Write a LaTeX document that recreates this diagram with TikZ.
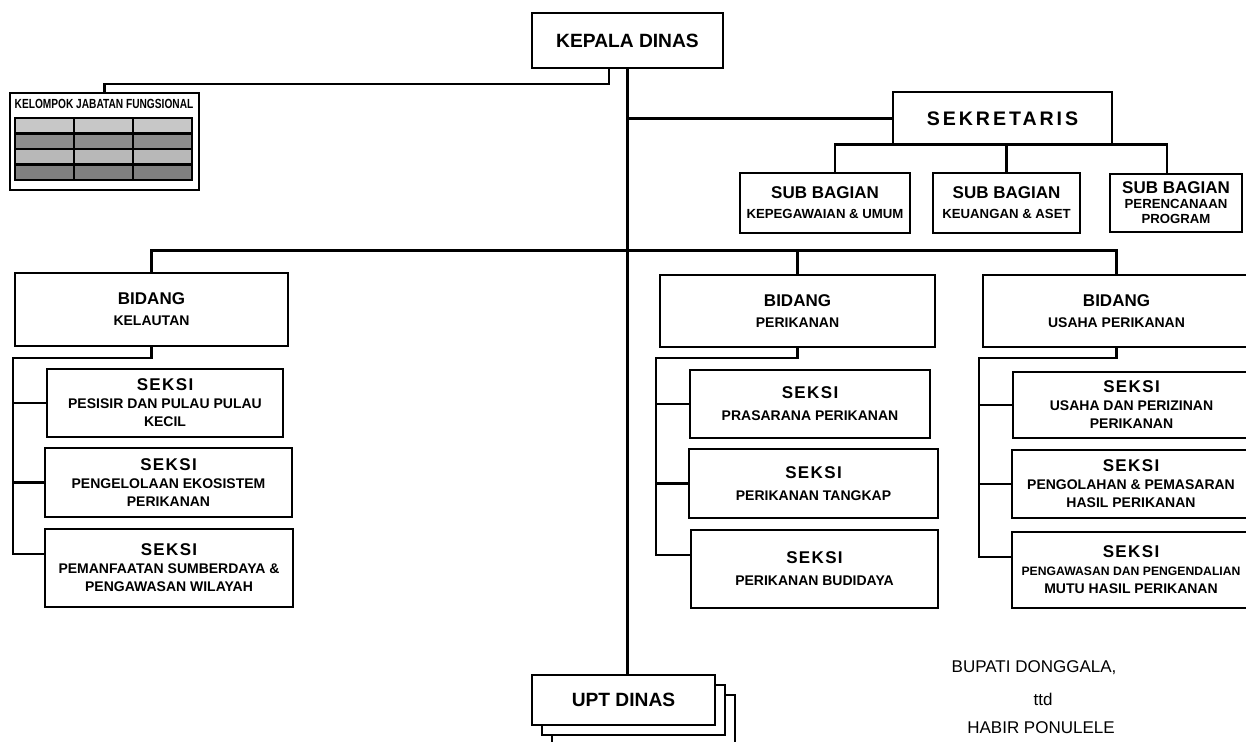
\documentclass[tikz,border=0pt]{standalone}
\usepackage{fontspec}
\usepackage{graphicx}
\setmainfont{Liberation Sans}
\usetikzlibrary{shadows}
\newcommand{\headtxt}[1]{{\fontsize{8.5}{9}\selectfont\addfontfeature{LetterSpace=8}#1}}
\newcommand{\bighd}[1]{{\fontsize{8.5}{9}\selectfont #1}}

\begin{document}
\begin{tikzpicture}[
        x=0.5pt, y=-0.5pt,
        box/.style={draw, line width=1.4pt, fill=white, align=center, inner sep=1pt,
            font=\bfseries\fontsize{7}{9}\selectfont},
        topbox/.style={draw, line width=1.1pt, fill=white, align=center,
            font=\bfseries\fontsize{9.6}{11}\selectfont},
        stack/.style={general shadow={shadow xshift=10pt, shadow yshift=-10pt, fill=white, draw, line width=1.1pt},
            general shadow={shadow xshift=5pt, shadow yshift=-5pt, fill=white, draw, line width=1.1pt}},
        link/.style={line width=1.1pt}
    ]

    \useasboundingbox (0,0) rectangle (1246,742);
    \clip (0,0) rectangle (1246,742);

    % Nodes
    \node[topbox, minimum width=95.5pt, minimum height=27.5pt] (kepala) at (627.5,40.5) {KEPALA DINAS};
    \node[draw, line width=1.1pt, minimum width=94.5pt, minimum height=48.5pt] (jabfung) at (104.5,141.5) {};
    \node[inner sep=0pt, font=\bfseries\fontsize{6.6}{7}\selectfont] (jftitle) at (104,104)
        {\scalebox{0.77}[1]{KELOMPOK JABATAN FUNGSIONAL}};
    \node[topbox, minimum width=109.5pt, minimum height=26.5pt,
        font=\bfseries\fontsize{9.8}{11}\selectfont\addfontfeature{LetterSpace=15}] (sekretaris) at (1002.5,118.5) {SEKRETARIS};

    \node[box, minimum width=85pt, minimum height=30pt] (sb1) at (825,203)
        {\bighd{SUB BAGIAN}\\[1pt]{\fontsize{6.6}{9}\selectfont KEPEGAWAIAN \& UMUM}};
    \node[box, minimum width=73.5pt, minimum height=30pt] (sb2) at (1006.5,203)
        {\bighd{SUB BAGIAN}\\[1pt]{\fontsize{6.6}{9}\selectfont KEUANGAN \& ASET}};
    \node[box, minimum width=66pt, minimum height=29pt, font=\bfseries\fontsize{6.6}{7.5}\selectfont] (sb3) at (1176,203)
        {\bighd{SUB BAGIAN}\\PERENCANAAN\\PROGRAM};

    \node[box, minimum width=136.5pt, minimum height=36.5pt] (bk) at (151.5,309.5) {\bighd{BIDANG}\\[1.5pt]KELAUTAN};
    \node[box, minimum width=137.5pt, minimum height=36pt] (bp) at (797.5,311) {\bighd{BIDANG}\\[1.5pt]PERIKANAN};
    \node[box, minimum width=133.5pt, minimum height=36pt] (bu) at (1116.5,311) {\bighd{BIDANG}\\[1.5pt]USAHA PERIKANAN};

    \node[box, minimum width=118pt, minimum height=34pt] (s11) at (165,403) {\headtxt{SEKSI}\\PESISIR DAN PULAU PULAU\\KECIL};
    \node[box, minimum width=123.5pt, minimum height=34.5pt] (s12) at (168.5,482.5) {\headtxt{SEKSI}\\PENGELOLAAN EKOSISTEM\\PERIKANAN};
    \node[box, minimum width=124pt, minimum height=39pt] (s13) at (169,568) {\headtxt{SEKSI}\\PEMANFAATAN SUMBERDAYA \&\\PENGAWASAN WILAYAH};

    \node[box, minimum width=120pt, minimum height=34pt] (s21) at (810,404) {\headtxt{SEKSI}\\[2pt]PRASARANA PERIKANAN};
    \node[box, minimum width=124.5pt, minimum height=34.5pt] (s22) at (813.5,483.5) {\headtxt{SEKSI}\\[2pt]PERIKANAN TANGKAP};
    \node[box, minimum width=123.5pt, minimum height=39pt] (s23) at (814.5,569) {\headtxt{SEKSI}\\[2pt]PERIKANAN BUDIDAYA};

    \node[box, minimum width=118.5pt, minimum height=33pt] (s31) at (1131.5,405) {\headtxt{SEKSI}\\USAHA DAN PERIZINAN\\PERIKANAN};
    \node[box, minimum width=119pt, minimum height=34pt] (s32) at (1131,484) {\headtxt{SEKSI}\\PENGOLAHAN \& PEMASARAN\\HASIL PERIKANAN};
    \node[box, minimum width=119pt, minimum height=38pt] (s33) at (1131,570)
        {\headtxt{SEKSI}\\{\fontsize{6.1}{9}\selectfont PENGAWASAN DAN PENGENDALIAN}\\MUTU HASIL PERIKANAN};

    \node[topbox, stack, minimum width=91.5pt, minimum height=25pt] (upt) at (623.5,700) {UPT DINAS};

    \node[font=\fontsize{8.5}{10}\selectfont] (bupati) at (1034,668) {BUPATI DONGGALA,};
    \node[font=\fontsize{8.5}{10}\selectfont] (ttd) at (1043,699) {ttd};
    \node[font=\fontsize{8.5}{10}\selectfont] (nama) at (1041,728) {HABIR PONULELE};

    % Jabatan fungsional grid
    \foreach \r/\shade in {0/22,1/45,2/28,3/50} {
        \foreach \c in {0,1,2} {
            \draw[line width=1.1pt, fill=black!\shade] (15+59*\c,118+15.5*\r) rectangle ++(59,15.5);
        }
    }

    % Lines
    \draw[link] (kepala.south) -- (kepala.south |- upt.north);
    \draw[link] ([xshift=-9.25pt]kepala.south) -- ++(0,15) -| (jabfung.north);
    \draw[link] (sekretaris.west) -- (sekretaris.west -| kepala.south);
    \draw[link] ([xshift=5pt]sb1.north) -- ++(0,-27) -| ([xshift=-4.5pt]sb3.north);
    \draw[link] (sb2.north) -- (sb2.north |- sekretaris.south);

    \draw[link] (bk.north) -- ++(0,-21) -| (bu.north);
    \draw[link] (bp.north) -- ++(0,-23);

    \draw[link] (bk.south) -- ++(0,11) -| ([xshift=-15.5pt, yshift=7pt]s13.west) -- ([yshift=7pt]s13.west);
    \draw[link] (s11.west) -- ++(-33,0);
    \draw[link] (s12.west) -- ++(-31,0);

    \draw[link] (bp.south) -- ++(0,10) -| ([xshift=-17pt, yshift=7pt]s23.west) -- ([yshift=7pt]s23.west);
    \draw[link] (s21.west) -- ++(-33,0);
    \draw[link] (s22.west) -- ++(-32,0);

    \draw[link] (bu.south) -- ++(0,10) -| ([xshift=-16pt, yshift=6.5pt]s33.west) -- ([yshift=6.5pt]s33.west);
    \draw[link] (s31.west) -- ++(-33,0);
    \draw[link] (s32.west) -- ++(-32,0);

\end{tikzpicture}
\end{document}
